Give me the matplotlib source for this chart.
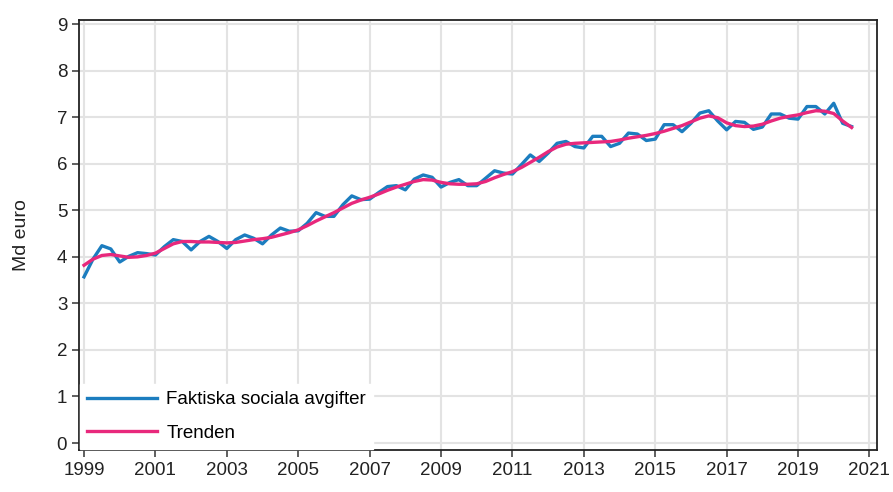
import matplotlib
matplotlib.use('Agg')
import matplotlib.pyplot as plt
import numpy as np

plt.rcParams['font.family'] = ['Liberation Sans', 'DejaVu Sans']

# quarterly data 1999Q1 - 2020Q3, billion euro
startYear = 1999
actual = [
    3.57, 3.95, 4.24, 4.17,
    3.89, 4.01, 4.09, 4.07,
    4.04, 4.22, 4.37, 4.33,
    4.15, 4.33, 4.44, 4.33,
    4.18, 4.37, 4.47, 4.40,
    4.28, 4.47, 4.62, 4.55,
    4.56, 4.72, 4.95, 4.87,
    4.87, 5.12, 5.31, 5.23,
    5.24, 5.38, 5.51, 5.53,
    5.44, 5.67, 5.76, 5.71,
    5.50, 5.60, 5.66, 5.53,
    5.53, 5.69, 5.85, 5.80,
    5.78, 5.98, 6.19, 6.05,
    6.23, 6.44, 6.48, 6.37,
    6.34, 6.59, 6.59, 6.37,
    6.44, 6.66, 6.64, 6.50,
    6.53, 6.84, 6.84, 6.69,
    6.87, 7.09, 7.14, 6.92,
    6.73, 6.91, 6.89, 6.74,
    6.79, 7.07, 7.07, 6.98,
    6.96, 7.23, 7.23, 7.07,
    7.30, 6.87, 6.80,
]
trend = [
    3.82, 3.95, 4.03, 4.05,
    4.02, 3.99, 4.00, 4.03,
    4.08, 4.18, 4.28, 4.33,
    4.33, 4.32, 4.32, 4.31,
    4.30, 4.31, 4.34, 4.37,
    4.39, 4.42, 4.47, 4.52,
    4.58, 4.67, 4.77, 4.86,
    4.95, 5.05, 5.15, 5.22,
    5.28, 5.35, 5.43, 5.50,
    5.56, 5.62, 5.66, 5.65,
    5.60, 5.57, 5.56, 5.56,
    5.57, 5.62, 5.70, 5.77,
    5.83, 5.92, 6.03, 6.14,
    6.26, 6.36, 6.42, 6.44,
    6.45, 6.46, 6.47, 6.48,
    6.51, 6.55, 6.58, 6.61,
    6.65, 6.70, 6.76, 6.82,
    6.90, 6.98, 7.03, 6.99,
    6.88, 6.82, 6.80, 6.81,
    6.85, 6.92, 6.98, 7.02,
    7.05, 7.10, 7.14, 7.13,
    7.08, 6.92, 6.78,
]
labels = ['Faktiska sociala avgifter', 'Trenden']
colors = ['#1c7dbf', '#e8287c']

x = startYear + np.arange(len(actual)) / 4.0

fig = plt.figure(figsize=(8.93, 4.92), dpi=100)
ax = fig.add_axes([0.0885, 0.0854, 0.8935, 0.8736])

ax.plot(x, actual, color=colors[0], lw=2.4, label=labels[0], zorder=3)
ax.plot(x, trend, color=colors[1], lw=2.4, label=labels[1], zorder=4)

ax.set_xlim(1998.86, 2021.21)
ax.set_ylim(-0.15, 9.086)
ax.set_xticks(np.arange(1999, 2022, 2))
ax.set_yticks(np.arange(0, 10, 1))
ax.tick_params(labelsize=13.5, length=5, width=1.2, color='#444444', labelcolor='#222222')
ax.grid(True, color='#e3e3e3', lw=1.5)
ax.set_axisbelow(True)
for s in ax.spines.values():
    s.set_color('#222222')
    s.set_linewidth(1.3)

ax.set_ylabel('Md euro', fontsize=14, color='#222222')
ax.yaxis.set_label_coords(-0.062, 0.5)

leg = ax.legend(loc='lower left', fontsize=13.5, frameon=True, handlelength=3.7,
                handletextpad=0.5, borderaxespad=0.05, labelspacing=0.85,
                fancybox=False, bbox_to_anchor=(0.0, 0.0))
leg.get_frame().set_edgecolor('white')
leg.get_frame().set_facecolor('white')
leg.get_frame().set_alpha(1)

fig.savefig('out.png', dpi=100)
